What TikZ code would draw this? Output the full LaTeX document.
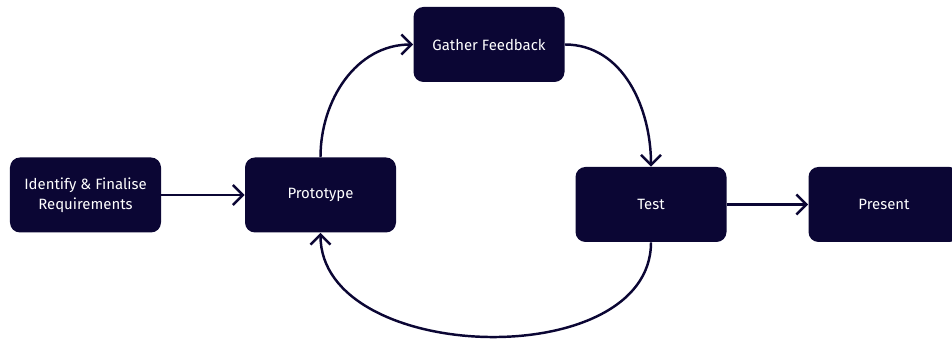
\documentclass[tikz,border=0pt]{standalone}
\usepackage{fontspec}
\setsansfont{Fira Sans}
\usepackage{tikz}
\usetikzlibrary{positioning,arrows.meta}
\definecolor{ink}{HTML}{0B0634}
\tikzstyle{stage}=[rectangle,rounded corners=0.2cm,fill=ink,text=white,
  minimum width=3.02cm,minimum height=1.5cm,align=center,
  font=\sffamily\fontsize{8.5}{11.3}\selectfont]
\tikzstyle{flow}=[draw=ink,line width=1.4pt,-{Straight Barb[length=2mm,width=4mm]}]

\begin{document}
\begin{tikzpicture}[node distance=4.7cm]
  \useasboundingbox (-1.71,-3.04) rectangle (17.33,3.9);
  \node(ident)[stage]{Identify \& Finalise\\Requirements};
  \node(proto)[stage,right of=ident]{Prototype};
  \node(gather)[stage] at (8.07,3.01){Gather Feedback};
  \node(test)[stage] at (11.31,-0.19){Test};
  \node(present)[stage,right of=test,node distance=4.66cm]{Present};
  % straight steps
  \draw[flow] (ident) -- (proto);
  \draw[flow] (test) -- (present);
  % feedback loop
  \draw[flow] (proto.north) to[out=90,in=180] (gather.west);
  \draw[flow] (gather.east) to[out=0,in=90] (test.north);
  \draw[flow] (test.south) to[out=-90,in=-90,looseness=1.02] (proto.south);
\end{tikzpicture}
\end{document}
